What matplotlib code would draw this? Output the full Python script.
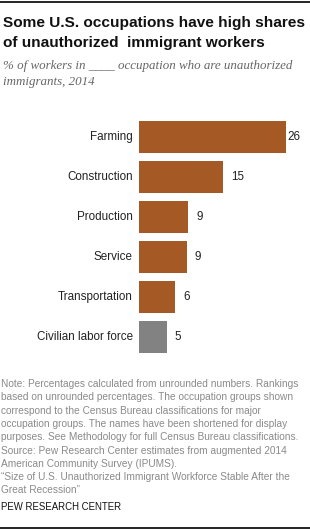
import matplotlib
matplotlib.use('Agg')
from matplotlib import pyplot as plt  # noqa

W, H = 310, 530

categories = ['Farming', 'Construction', 'Production', 'Service',
              'Transportation', 'Civilian labor force']
shares = [26.0, 14.9, 8.7, 8.5, 6.4, 4.9]
share_labels = ['26', '15', '9', '9', '6', '5']
is_total = [False, False, False, False, False, True]

title = 'Some U.S. occupations have high shares\nof unauthorized  immigrant workers'
subtitle = '% of workers in ____ occupation who are unauthorized\nimmigrants, 2014'
note_lines = [
    'Note: Percentages calculated from unrounded numbers. Rankings',
    'based on unrounded percentages. The occupation groups shown',
    'correspond to the Census Bureau classifications for major',
    'occupation groups. The names have been shortened for display',
    'purposes. See Methodology for full Census Bureau classifications.',
    'Source: Pew Research Center estimates from augmented 2014',
    'American Community Survey (IPUMS).',
    '\u201cSize of U.S. Unauthorized Immigrant Workforce Stable After the',
    'Great Recession\u201d',
]

BROWN = '#a55a26'
GREY = '#828282'
SANS = ['Liberation Sans', 'DejaVu Sans']

fig = plt.figure(figsize=(W / 100, H / 100), dpi=100)


def px(x, y):
    # figure pixel (from top-left) -> figure fraction
    return x / W, 1 - y / H


# rules at top and bottom
fig.add_artist(plt.Line2D([0, 1], [1 - 1.5 / H] * 2, color='black', lw=1.2))
fig.add_artist(plt.Line2D([0, 1], [1 - 528 / H] * 2, color='black', lw=1.2))

for i, line in enumerate(title.split('\n')):
    x, y = px(3, 27.5 + i * 19.5)
    fig.text(x, y, line, family=SANS, weight='bold', fontsize=11.1,
             color='#111111', va='baseline')

for i, line in enumerate(subtitle.split('\n')):
    x, y = px(3, 69 + i * 16)
    fig.text(x, y, line, family=['Liberation Serif', 'DejaVu Serif'],
             style='italic', fontsize=9.4, color='#666666', va='baseline')

# bar area
unit = 5.64
top, bottom = 116.6, 357.5
ax = fig.add_axes([139 / W, 1 - bottom / H, (W - 139) / W, (bottom - top) / H])
ax.set_xlim(0, (W - 139) / unit)
ax.set_ylim(len(categories) - 0.5, -0.5)
ypos = list(range(len(categories)))
colors = [GREY if t else BROWN for t in is_total]
ax.barh(ypos, shares, height=0.8, color=colors)
ax.axis('off')

for i, (cat, v, lab) in enumerate(zip(categories, shares, share_labels)):
    ax.annotate(cat, (0, i), xytext=(-6 * 0.72, 0), textcoords='offset points',
                ha='right', va='center', family=SANS, fontsize=8.4, color='#222222')
    pad = 2 if v == max(shares) else 8
    ax.annotate(lab, (v, i), xytext=(pad * 0.72, 0), textcoords='offset points',
                ha='left', va='center', family=SANS, fontsize=8.4, color='#222222')

for i, line in enumerate(note_lines):
    x, y = px(1, 387 + i * 13.3)
    fig.text(x, y, line, family=SANS, fontsize=7.3, color='#8a8a8a', va='baseline')

x, y = px(1, 510.5)
fig.text(x, y, 'PEW RESEARCH CENTER', family=SANS, fontsize=6.9, color='#111111',
         va='baseline')

fig.savefig('out.png', dpi=100)
